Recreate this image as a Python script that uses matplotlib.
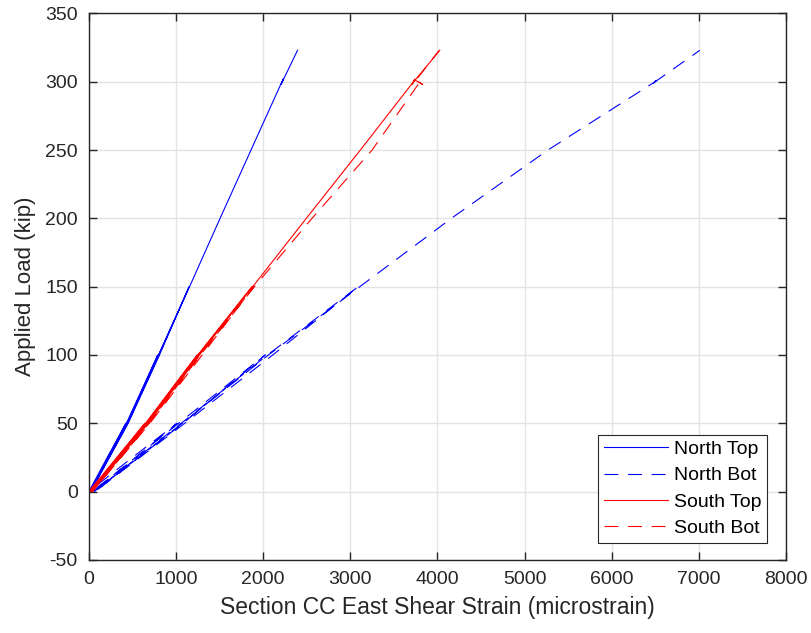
import matplotlib
matplotlib.use("Agg")
import matplotlib.pyplot as plt

plt.rcParams['font.family'] = ['Liberation Sans', 'DejaVu Sans']
plt.rcParams['axes.unicode_minus'] = False

# Applied load history (kip): three small cycles, then loading to 300, a hold, and 323
load_kip = [0, 25, 50, 25, 0, 50, 100, 50, 0, 50, 100, 150, 100, 50, 0,
            50, 100, 150, 200, 250, 300, 301, 298, 302, 300, 323]

# Shear strain readings (microstrain) for each gauge along the load history
north_top = [0, 210, 425, 220, 10, 430, 790, 440, 15, 440, 800, 1150, 810, 450, 20,
             445, 800, 1155, 1505, 1860, 2215, 2225, 2205, 2230, 2220, 2394]
north_bot = [0, 500, 1011, 540, 40, 1030, 2023, 1080, 60, 1060, 2050, 3092, 2110, 1100, 70,
             1070, 2060, 3110, 4160, 5268, 6498, 6510, 6470, 6520, 6500, 7011]
south_top = [0, 320, 644, 330, 15, 650, 1241, 670, 25, 660, 1250, 1870, 1270, 680, 30,
             665, 1255, 1880, 2495, 3115, 3725, 3735, 3710, 3740, 3728, 4027]
south_bot = [0, 330, 655, 345, 20, 665, 1260, 690, 30, 680, 1275, 1890, 1300, 700, 40,
             690, 1280, 1900, 2560, 3250, 3800, 3760, 3830, 3720, 3740, 4020]

labels = ['North Top', 'North Bot', 'South Top', 'South Bot']

x_ticks = [0, 1000, 2000, 3000, 4000, 5000, 6000, 7000, 8000]
y_ticks = [-50, 0, 50, 100, 150, 200, 250, 300, 350]

fig = plt.figure(figsize=(8.11, 6.33), dpi=100)
ax = fig.add_axes([0.1097, 0.1156, 0.8594, 0.8632])

lw = 0.8
dash = (0, (12.5, 8.7))
ax.plot(north_top, load_kip, color=(0, 0, 1), lw=lw, label=labels[0])
ax.plot(north_bot, load_kip, color=(0, 0, 1), lw=lw, linestyle=(10.8, (12.5, 8.7)),
        label=labels[1])
ax.plot(south_top, load_kip, color=(1, 0, 0), lw=lw, label=labels[2])
ax.plot(south_bot, load_kip, color=(1, 0, 0), lw=lw, linestyle=dash, label=labels[3])

ax.set_xlim(x_ticks[0], x_ticks[-1])
ax.set_ylim(y_ticks[0], y_ticks[-1])
ax.set_xticks(x_ticks)
ax.set_yticks(y_ticks)
ax.grid(True, color=(0.89, 0.89, 0.89), lw=1.0)
ax.set_axisbelow(True)

axis_color = (0.15, 0.15, 0.15)
for s in ax.spines.values():
    s.set_color(axis_color)
    s.set_linewidth(1.0)
ax.tick_params(direction='in', length=6, width=1.0, color=axis_color,
               top=True, right=True, labelsize=14, labelcolor=axis_color, pad=8)

ax.set_xlabel('Section CC East Shear Strain (microstrain)', fontsize=16.5,
              color=axis_color, labelpad=6)
ax.set_ylabel('Applied Load (kip)', fontsize=16, color=axis_color, labelpad=7)

leg = ax.legend(loc='lower right', bbox_to_anchor=(0.9727, 0.0307), borderaxespad=0,
                fontsize=14, handlelength=3.3, handletextpad=0.3, labelspacing=0.45,
                borderpad=0.3, fancybox=False, framealpha=1, edgecolor=(0.15, 0.15, 0.15))
leg.get_frame().set_linewidth(0.8)
leg.get_lines()[1].set_linestyle(dash)
for t in leg.get_texts():
    t.set_color('black')

fig.savefig('out.png', dpi=100)
